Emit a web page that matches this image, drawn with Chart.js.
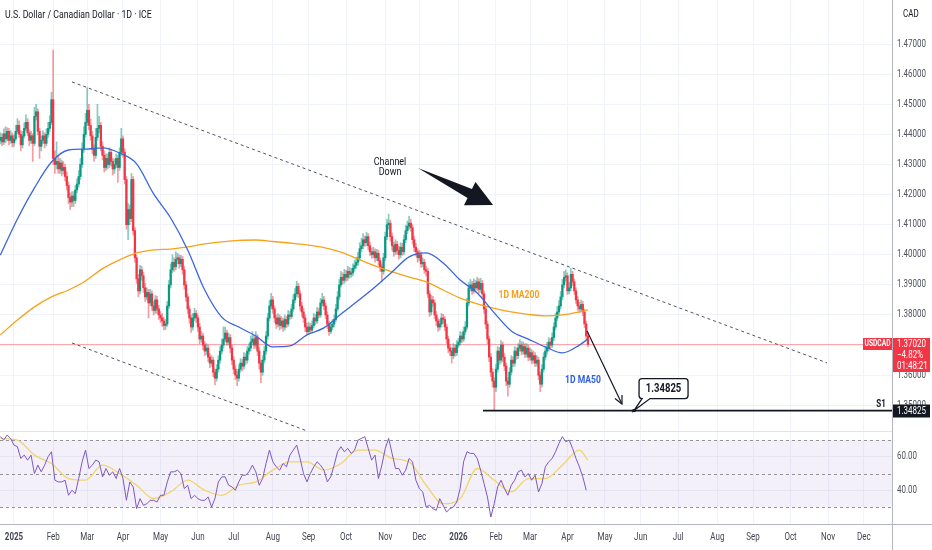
<!DOCTYPE html>
<html><head><meta charset="utf-8">
<script src="https://cdn.jsdelivr.net/npm/chart.js@4.4.1/dist/chart.umd.min.js"></script>
<style>
html,body{margin:0;padding:0;background:#fff;}
#wrap{position:relative;width:932px;height:550px;overflow:hidden;background:#fff;}
#c1{position:absolute;left:0;top:0;}
#c2{position:absolute;left:0;top:431px;}
</style></head><body>
<div id="wrap"><canvas id="c1" width="932" height="431"></canvas><canvas id="c2" width="932" height="119"></canvas></div>
<script>
// ---------------- DATA ----------------
const title = 'U.S. Dollar / Canadian Dollar · 1D · ICE';
const currency = 'CAD';
const symbol = 'USDCAD';
const firstBar = -8; // weekday index of the first candle, counted from 2025-01-01
const monthLabels = ['2025','Feb','Mar','Apr','May','Jun','Jul','Aug','Sep','Oct','Nov','Dec',
                     '2026','Feb','Mar','Apr','May','Jun','Jul','Aug','Sep','Oct','Nov','Dec'];
const opens = [
1.4380,1.4390,1.4375,1.4402,1.4385,1.4410,1.4380,1.4395,1.4372,1.4385,
1.4410,1.4430,1.4400,1.4365,1.4395,1.4420,1.4440,1.4405,1.4380,1.4395,
1.4370,1.4460,1.4475,1.4410,1.4360,1.4380,1.4395,1.4370,1.4400,1.4420,
1.4440,1.4515,1.4320,1.4300,1.4310,1.4285,1.4305,1.4280,1.4290,1.4260,
1.4230,1.4190,1.4175,1.4195,1.4180,1.4215,1.4235,1.4260,1.4300,1.4350,
1.4400,1.4440,1.4480,1.4430,1.4395,1.4350,1.4330,1.4390,1.4420,1.4430,
1.4360,1.4330,1.4290,1.4320,1.4300,1.4340,1.4310,1.4285,1.4300,1.4320,
1.4290,1.4340,1.4385,1.4340,1.4250,1.4100,1.4150,1.4120,1.4250,1.4080,
1.3990,1.3920,1.3880,1.3950,1.3930,1.3890,1.3860,1.3875,1.3840,1.3870,
1.3830,1.3815,1.3850,1.3820,1.3800,1.3790,1.3780,1.3765,1.3770,1.3830,
1.3900,1.3950,1.3975,1.3960,1.3985,1.3990,1.3970,1.3985,1.3950,1.3900,
1.3860,1.3820,1.3790,1.3760,1.3790,1.3805,1.3790,1.3760,1.3720,1.3730,
1.3700,1.3680,1.3690,1.3660,1.3640,1.3650,1.3610,1.3590,1.3620,1.3650,
1.3680,1.3700,1.3720,1.3740,1.3710,1.3725,1.3690,1.3650,1.3620,1.3600,
1.3590,1.3620,1.3640,1.3630,1.3660,1.3650,1.3680,1.3690,1.3710,1.3720,
1.3700,1.3725,1.3680,1.3640,1.3610,1.3650,1.3680,1.3730,1.3790,1.3830,
1.3850,1.3820,1.3790,1.3770,1.3790,1.3765,1.3780,1.3760,1.3785,1.3770,
1.3800,1.3795,1.3820,1.3850,1.3870,1.3895,1.3870,1.3830,1.3810,1.3790,
1.3760,1.3745,1.3760,1.3750,1.3765,1.3790,1.3780,1.3810,1.3800,1.3840,
1.3850,1.3830,1.3800,1.3770,1.3745,1.3760,1.3770,1.3785,1.3820,1.3860,
1.3900,1.3925,1.3915,1.3935,1.3925,1.3945,1.3935,1.3940,1.3955,1.3965,
1.3975,1.3990,1.4020,1.4030,1.4050,1.4040,1.4060,1.4030,1.4010,1.4000,
1.4010,1.3990,1.4005,1.3980,1.3960,1.3945,1.3990,1.4060,1.4100,1.4105,
1.4060,1.4030,1.4010,1.4035,1.4015,1.4000,1.4025,1.4010,1.4050,1.4080,
1.4095,1.4105,1.4090,1.4050,1.4025,1.4010,1.3990,1.4000,1.3970,1.3975,
1.3950,1.3945,1.3870,1.3810,1.3850,1.3840,1.3800,1.3780,1.3760,1.3770,
1.3790,1.3785,1.3760,1.3720,1.3690,1.3680,1.3665,1.3690,1.3675,1.3700,
1.3710,1.3730,1.3720,1.3745,1.3760,1.3840,1.3890,1.3900,1.3880,1.3905,
1.3890,1.3910,1.3885,1.3905,1.3870,1.3820,1.3770,1.3720,1.3660,1.3610,
1.3580,1.3560,1.3620,1.3680,1.3650,1.3700,1.3660,1.3630,1.3580,1.3570,
1.3610,1.3650,1.3640,1.3680,1.3665,1.3690,1.3700,1.3680,1.3695,1.3670,
1.3690,1.3660,1.3675,1.3650,1.3665,1.3640,1.3650,1.3600,1.3570,1.3620,
1.3660,1.3680,1.3690,1.3710,1.3700,1.3725,1.3760,1.3790,1.3810,1.3830,
1.3860,1.3900,1.3925,1.3930,1.3880,1.3890,1.3935,1.3910,1.3880,1.3850,
1.3830,1.3820,1.3835,1.3810,1.3770,1.3730];
const highs = [
1.4405,1.4402,1.4418,1.4425,1.4422,1.4420,1.4412,1.4405,1.4398,1.4430,
1.4452,1.4445,1.4412,1.4410,1.4438,1.4465,1.4452,1.4415,1.4410,1.4402,
1.4490,1.4500,1.4485,1.4420,1.4395,1.4412,1.4405,1.4418,1.4440,1.4462,
1.4540,1.4680,1.4345,1.4375,1.4330,1.4320,1.4315,1.4310,1.4300,1.4275,
1.4242,1.4205,1.4210,1.4210,1.4230,1.4252,1.4280,1.4320,1.4372,1.4425,
1.4470,1.4555,1.4500,1.4450,1.4410,1.4365,1.4420,1.4500,1.4460,1.4440,
1.4375,1.4345,1.4335,1.4335,1.4355,1.4350,1.4320,1.4318,1.4335,1.4330,
1.4355,1.4420,1.4395,1.4352,1.4260,1.4170,1.4165,1.4270,1.4260,1.4090,
1.4000,1.3935,1.3965,1.3962,1.3942,1.3905,1.3890,1.3885,1.3885,1.3880,
1.3845,1.3865,1.3862,1.3832,1.3812,1.3805,1.3792,1.3785,1.3845,1.3915,
1.3970,1.4000,1.3990,1.4010,1.4005,1.4000,1.3998,1.3995,1.3962,1.3912,
1.3870,1.3830,1.3800,1.3805,1.3822,1.3815,1.3800,1.3772,1.3745,1.3740,
1.3712,1.3705,1.3700,1.3672,1.3665,1.3660,1.3620,1.3635,1.3665,1.3695,
1.3720,1.3760,1.3760,1.3750,1.3740,1.3735,1.3700,1.3662,1.3632,1.3612,
1.3635,1.3655,1.3652,1.3675,1.3672,1.3695,1.3705,1.3730,1.3745,1.3732,
1.3745,1.3735,1.3692,1.3650,1.3665,1.3695,1.3745,1.3805,1.3848,1.3872,
1.3862,1.3830,1.3800,1.3805,1.3800,1.3795,1.3790,1.3800,1.3795,1.3815,
1.3812,1.3835,1.3868,1.3888,1.3912,1.3905,1.3880,1.3842,1.3822,1.3800,
1.3772,1.3775,1.3772,1.3780,1.3805,1.3802,1.3825,1.3822,1.3855,1.3872,
1.3862,1.3840,1.3810,1.3780,1.3775,1.3785,1.3800,1.3835,1.3878,1.3918,
1.3945,1.3940,1.3952,1.3948,1.3962,1.3958,1.3955,1.3970,1.3982,1.3992,
1.4008,1.4040,1.4055,1.4070,1.4062,1.4075,1.4070,1.4042,1.4022,1.4025,
1.4020,1.4018,1.4015,1.3990,1.3970,1.4005,1.4075,1.4118,1.4135,1.4115,
1.4072,1.4042,1.4050,1.4045,1.4028,1.4040,1.4038,1.4065,1.4098,1.4112,
1.4128,1.4118,1.4100,1.4062,1.4038,1.4020,1.4015,1.4010,1.3990,1.3985,
1.3962,1.3955,1.3880,1.3865,1.3862,1.3850,1.3812,1.3790,1.3785,1.3805,
1.3802,1.3795,1.3770,1.3730,1.3702,1.3692,1.3705,1.3700,1.3715,1.3722,
1.3745,1.3742,1.3760,1.3778,1.3855,1.3908,1.3918,1.3912,1.3920,1.3915,
1.3925,1.3920,1.3922,1.3915,1.3880,1.3830,1.3780,1.3730,1.3672,1.3622,
1.3592,1.3635,1.3695,1.3692,1.3715,1.3710,1.3672,1.3640,1.3592,1.3625,
1.3665,1.3662,1.3695,1.3692,1.3705,1.3718,1.3712,1.3710,1.3705,1.3705,
1.3700,1.3690,1.3685,1.3680,1.3675,1.3665,1.3660,1.3610,1.3635,1.3675,
1.3695,1.3708,1.3725,1.3722,1.3740,1.3775,1.3805,1.3828,1.3848,1.3878,
1.3918,1.3945,1.3950,1.3940,1.3908,1.3955,1.3945,1.3920,1.3890,1.3862,
1.3842,1.3850,1.3845,1.3820,1.3780,1.3740];
const lows = [
1.4368,1.4362,1.4366,1.4372,1.4378,1.4365,1.4370,1.4358,1.4360,1.4378,
1.4402,1.4390,1.4345,1.4355,1.4388,1.4412,1.4395,1.4362,1.4370,1.4310,
1.4362,1.4448,1.4398,1.4320,1.4345,1.4370,1.4355,1.4362,1.4390,1.4410,
1.4432,1.4300,1.4270,1.4285,1.4270,1.4270,1.4262,1.4268,1.4245,1.4215,
1.4170,1.4150,1.4160,1.4160,1.4170,1.4205,1.4225,1.4250,1.4290,1.4340,
1.4390,1.4430,1.4415,1.4380,1.4335,1.4310,1.4320,1.4380,1.4405,1.4345,
1.4315,1.4275,1.4280,1.4285,1.4290,1.4295,1.4265,1.4270,1.4290,1.4240,
1.4280,1.4330,1.4325,1.4235,1.4085,1.4050,1.4100,1.4110,1.4065,1.3975,
1.3905,1.3860,1.3870,1.3915,1.3875,1.3845,1.3850,1.3790,1.3830,1.3815,
1.3800,1.3805,1.3805,1.3785,1.3775,1.3762,1.3750,1.3752,1.3762,1.3822,
1.3890,1.3940,1.3945,1.3950,1.3970,1.3955,1.3960,1.3935,1.3885,1.3845,
1.3805,1.3772,1.3742,1.3750,1.3780,1.3775,1.3745,1.3705,1.3710,1.3685,
1.3665,1.3668,1.3645,1.3625,1.3630,1.3595,1.3568,1.3580,1.3610,1.3640,
1.3670,1.3690,1.3710,1.3700,1.3700,1.3675,1.3635,1.3605,1.3585,1.3565,
1.3580,1.3610,1.3615,1.3620,1.3635,1.3640,1.3670,1.3680,1.3700,1.3688,
1.3690,1.3665,1.3620,1.3575,1.3600,1.3640,1.3670,1.3720,1.3780,1.3820,
1.3805,1.3775,1.3755,1.3760,1.3750,1.3755,1.3745,1.3750,1.3758,1.3762,
1.3785,1.3788,1.3812,1.3840,1.3860,1.3858,1.3815,1.3795,1.3775,1.3745,
1.3735,1.3735,1.3738,1.3740,1.3758,1.3768,1.3772,1.3790,1.3792,1.3830,
1.3818,1.3788,1.3755,1.3732,1.3738,1.3750,1.3760,1.3778,1.3812,1.3850,
1.3892,1.3902,1.3905,1.3912,1.3915,1.3922,1.3925,1.3930,1.3945,1.3955,
1.3965,1.3980,1.4010,1.4020,1.4028,1.4030,1.4018,1.3998,1.3988,1.3990,
1.3975,1.3980,1.3965,1.3945,1.3910,1.3935,1.3980,1.4050,1.4085,1.4045,
1.4015,1.3995,1.4000,1.4002,1.3985,1.3990,1.3998,1.4000,1.4040,1.4070,
1.4085,1.4078,1.4035,1.4010,1.3995,1.3975,1.3980,1.3958,1.3960,1.3938,
1.3930,1.3858,1.3795,1.3800,1.3828,1.3788,1.3765,1.3745,1.3750,1.3760,
1.3772,1.3748,1.3705,1.3675,1.3665,1.3640,1.3655,1.3662,1.3665,1.3692,
1.3700,1.3708,1.3712,1.3735,1.3752,1.3830,1.3880,1.3868,1.3872,1.3878,
1.3882,1.3872,1.3875,1.3858,1.3805,1.3755,1.3705,1.3645,1.3595,1.3560,
1.3483,1.3545,1.3610,1.3635,1.3640,1.3645,1.3615,1.3565,1.3530,1.3560,
1.3600,1.3628,1.3630,1.3652,1.3655,1.3680,1.3668,1.3670,1.3658,1.3660,
1.3648,1.3650,1.3638,1.3640,1.3628,1.3630,1.3585,1.3545,1.3560,1.3610,
1.3650,1.3670,1.3680,1.3688,1.3692,1.3715,1.3750,1.3780,1.3800,1.3820,
1.3850,1.3890,1.3912,1.3868,1.3870,1.3880,1.3898,1.3868,1.3838,1.3815,
1.3808,1.3810,1.3798,1.3758,1.3718,1.3695];
const closes = [
1.4390,1.4375,1.4402,1.4385,1.4410,1.4380,1.4395,1.4372,1.4385,1.4410,
1.4430,1.4400,1.4365,1.4395,1.4420,1.4440,1.4405,1.4380,1.4395,1.4370,
1.4460,1.4475,1.4410,1.4360,1.4380,1.4395,1.4370,1.4400,1.4420,1.4440,
1.4515,1.4320,1.4300,1.4310,1.4285,1.4305,1.4280,1.4290,1.4260,1.4230,
1.4190,1.4175,1.4195,1.4180,1.4215,1.4235,1.4260,1.4300,1.4350,1.4400,
1.4440,1.4480,1.4430,1.4395,1.4350,1.4330,1.4390,1.4420,1.4430,1.4360,
1.4330,1.4290,1.4320,1.4300,1.4340,1.4310,1.4285,1.4300,1.4320,1.4290,
1.4340,1.4385,1.4340,1.4250,1.4100,1.4150,1.4120,1.4250,1.4080,1.3990,
1.3920,1.3880,1.3950,1.3930,1.3890,1.3860,1.3875,1.3840,1.3870,1.3830,
1.3815,1.3850,1.3820,1.3800,1.3790,1.3780,1.3765,1.3770,1.3830,1.3900,
1.3950,1.3975,1.3960,1.3985,1.3990,1.3970,1.3985,1.3950,1.3900,1.3860,
1.3820,1.3790,1.3760,1.3790,1.3805,1.3790,1.3760,1.3720,1.3730,1.3700,
1.3680,1.3690,1.3660,1.3640,1.3650,1.3610,1.3590,1.3620,1.3650,1.3680,
1.3700,1.3720,1.3740,1.3710,1.3725,1.3690,1.3650,1.3620,1.3600,1.3590,
1.3620,1.3640,1.3630,1.3660,1.3650,1.3680,1.3690,1.3710,1.3720,1.3700,
1.3725,1.3680,1.3640,1.3610,1.3650,1.3680,1.3730,1.3790,1.3830,1.3850,
1.3820,1.3790,1.3770,1.3790,1.3765,1.3780,1.3760,1.3785,1.3770,1.3800,
1.3795,1.3820,1.3850,1.3870,1.3895,1.3870,1.3830,1.3810,1.3790,1.3760,
1.3745,1.3760,1.3750,1.3765,1.3790,1.3780,1.3810,1.3800,1.3840,1.3850,
1.3830,1.3800,1.3770,1.3745,1.3760,1.3770,1.3785,1.3820,1.3860,1.3900,
1.3925,1.3915,1.3935,1.3925,1.3945,1.3935,1.3940,1.3955,1.3965,1.3975,
1.3990,1.4020,1.4030,1.4050,1.4040,1.4060,1.4030,1.4010,1.4000,1.4010,
1.3990,1.4005,1.3980,1.3960,1.3945,1.3990,1.4060,1.4100,1.4105,1.4060,
1.4030,1.4010,1.4035,1.4015,1.4000,1.4025,1.4010,1.4050,1.4080,1.4095,
1.4105,1.4090,1.4050,1.4025,1.4010,1.3990,1.4000,1.3970,1.3975,1.3950,
1.3945,1.3870,1.3810,1.3850,1.3840,1.3800,1.3780,1.3760,1.3770,1.3790,
1.3785,1.3760,1.3720,1.3690,1.3680,1.3665,1.3690,1.3675,1.3700,1.3710,
1.3730,1.3720,1.3745,1.3760,1.3840,1.3890,1.3900,1.3880,1.3905,1.3890,
1.3910,1.3885,1.3905,1.3870,1.3820,1.3770,1.3720,1.3660,1.3610,1.3580,
1.3560,1.3620,1.3680,1.3650,1.3700,1.3660,1.3630,1.3580,1.3570,1.3610,
1.3650,1.3640,1.3680,1.3665,1.3690,1.3700,1.3680,1.3695,1.3670,1.3690,
1.3660,1.3675,1.3650,1.3665,1.3640,1.3650,1.3600,1.3570,1.3620,1.3660,
1.3680,1.3690,1.3710,1.3700,1.3725,1.3760,1.3790,1.3810,1.3830,1.3860,
1.3900,1.3925,1.3930,1.3880,1.3890,1.3935,1.3910,1.3880,1.3850,1.3830,
1.3820,1.3835,1.3810,1.3770,1.3730,1.3702];
// moving averages read every 10 bars (last point = last bar)
const maStep = 10;
const ma50 = [1.3999,1.4119,1.4222,1.4308,1.4348,1.4351,1.4355,1.4338,1.4302,1.4202,
              1.4122,1.4016,1.3883,1.3793,1.3760,1.3730,1.3694,1.3697,1.3734,1.3757,
              1.3803,1.3847,1.3893,1.3943,1.3993,1.4006,1.3973,1.3916,1.3873,1.3807,
              1.3747,1.3720,1.3694,1.3674,1.3700,1.3720];
const ma200 = [1.3734,1.3783,1.3827,1.3860,1.3883,1.3913,1.3954,1.3983,1.4006,1.4016,
               1.4019,1.4026,1.4036,1.4043,1.4048,1.4049,1.4044,1.4039,1.4033,1.4024,
               1.4009,1.3986,1.3963,1.3943,1.3926,1.3910,1.3883,1.3856,1.3837,1.3822,
               1.3810,1.3802,1.3797,1.3800,1.3810,1.3817];
// RSI read every 2 bars, RSI moving average every 10 bars
const rsiStep = 2;
const rsi = [72,70,73,71,67,66,59,61,58,61, 50,55,51,55,60,63,46,45,45,46,
             37,40,38,47,57,64,53,55,58,57, 48,53,49,51,47,53,47,34,45,42,
             29,35,31,32,34,34,33,37,37,45, 51,51,52,50,41,43,35,37,35,34,
             34,36,30,35,45,48,48,43,42,40, 45,49,49,51,55,51,43,47,56,64,
             57,54,52,56,54,61,64,67,59,50, 45,50,54,57,55,52,45,48,55,63,
             66,63,65,62,64,70,71,72,65,58, 61,47,55,65,71,62,53,53,49,52,
             59,57,46,41,39,30,31,29,28,35, 31,27,29,30,33,41,57,63,62,62,
             59,52,44,36,24,32,42,46,41,37, 43,46,51,52,48,50,46,49,39,44,
             54,57,59,63,68,72,69,70,65,59, 54,48,40];
const rsiMa = [71,70,61,56,47,46,55,50,43,35, 39,46,40,37,43,45,52,57,57,52,
               56,64,64,59,57,43,32,35,53,46, 39,47,47,55,64,58];
const priceTicksStep = 0.01;
const rsiTicks = [40, 60];
const rsiLevels = [70, 50, 30];
const lastPrice = 1.37020, changeText = '−4.82%', countdownText = '01:48:21';
const s1Level = 1.34825, s1Label = 'S1';
// drawings (bar index, price)
const channelUpper = [[34.06,1.4574],[477.4,1.3641]];
const channelLower = [[34.06,1.3707],[172.0,1.3415]];
const projArrow = [[336.5,1.3747],[357.0,1.3504]];
const s1Start = 275.4;
const calloutAt = [364.1, 1.34825];
const bigArrow = [[237.2,1.4288],[281.3,1.4165]];
const notes = [
  {t:'Channel', at:[220.8,1.4308], color:'#131722', size:11.5, weight:'normal'},
  {t:'Down', at:[220.8,1.4273], color:'#131722', size:11.5, weight:'normal'},
  {t:'1D MA200', at:[296.5,1.3866], color:'#f5a01a', size:11, weight:'bold'},
  {t:'1D MA50', at:[334.1,1.3584], color:'#2f5fe0', size:11, weight:'bold'}
];

// ---------------- SETUP ----------------
const FONT = "'Roboto','Noto Sans','DejaVu Sans',sans-serif";
Chart.defaults.font.family = FONT;
const SX = 0.8; // horizontal text compression to mimic the narrow UI font
const X_MIN = -8.22, X_MAX = 515.56;
const P_MIN = 1.34146, P_MAX = 1.48462;
const R_MIN = 19.85, R_MAX = 75.4;

function weekdayIndex(y, m) {
  const start = Date.UTC(2025,0,1);
  let t = Date.UTC(y,m,1);
  while ([0,6].includes(new Date(t).getUTCDay())) t += 86400000;
  let c = 0;
  for (let u = start; u < t; u += 86400000) { const w = new Date(u).getUTCDay(); if (w !== 0 && w !== 6) c++; }
  return c;
}
const monthTicks = monthLabels.map((_, k) => weekdayIndex(2025 + Math.floor(k/12), k % 12));
const lastBar = firstBar + closes.length - 1;

const wickData = [], bodyData = [], wickCol = [], bodyCol = [];
for (let k = 0; k < closes.length; k++) {
  const x = firstBar + k, up = closes[k] >= opens[k];
  wickData.push({x, y:[lows[k], highs[k]]});
  bodyData.push({x, y:[Math.min(opens[k], closes[k]), Math.max(opens[k], closes[k])]});
  wickCol.push(up ? 'rgba(8,153,129,0.5)' : 'rgba(242,54,69,0.5)');
  bodyCol.push(up ? '#089981' : '#f23645');
}
const sampled = (arr, step) => arr.map((v, k) => ({x: Math.min(firstBar + k*step, lastBar), y: v}));
const seg = p => p.map(q => ({x:q[0], y:q[1]}));

function txt(ctx, s, x, y, o) {
  o = Object.assign({size:11, weight:'normal', color:'#131722', align:'left', sx:SX}, o || {});
  ctx.save();
  ctx.font = `${o.weight} ${o.size}px ${FONT}`;
  ctx.fillStyle = o.color; ctx.textAlign = o.align; ctx.textBaseline = 'middle';
  ctx.translate(x, y); ctx.scale(o.sx, 1); ctx.fillText(s, 0, 0);
  ctx.restore();
}

const priceDecor = {
  id: 'priceDecor',
  afterDatasetsDraw(chart) {
    const {ctx, scales:{x, y}} = chart;
    const px = v => x.getPixelForValue(v), py = v => y.getPixelForValue(v);
    ctx.save();
    // projection arrow head
    const s = {x:px(projArrow[0][0]), y:py(projArrow[0][1])}, e = {x:px(projArrow[1][0]), y:py(projArrow[1][1])};
    const ang = Math.atan2(e.y - s.y, e.x - s.x);
    ctx.strokeStyle = '#131722'; ctx.lineWidth = 1.2;
    ctx.beginPath();
    ctx.moveTo(e.x - 9*Math.cos(ang - 0.45), e.y - 9*Math.sin(ang - 0.45));
    ctx.lineTo(e.x, e.y);
    ctx.lineTo(e.x - 9*Math.cos(ang + 0.45), e.y - 9*Math.sin(ang + 0.45));
    ctx.stroke();
    // big channel arrow
    const a = {x:px(bigArrow[0][0]), y:py(bigArrow[0][1])}, b = {x:px(bigArrow[1][0]), y:py(bigArrow[1][1])};
    const dx = b.x - a.x, dy = b.y - a.y, L = Math.hypot(dx, dy), ux = dx/L, uy = dy/L, nx = -uy, ny = ux;
    const hb = L - 26, cx = a.x + ux*hb, cy = a.y + uy*hb;
    ctx.fillStyle = '#131722';
    ctx.beginPath(); ctx.moveTo(a.x, a.y);
    ctx.lineTo(cx + nx*5, cy + ny*5); ctx.lineTo(cx + nx*13, cy + ny*13); ctx.lineTo(b.x, b.y);
    ctx.lineTo(cx - nx*13, cy - ny*13); ctx.lineTo(cx - nx*5, cy - ny*5); ctx.closePath(); ctx.fill();
    // notes
    notes.forEach(n => txt(ctx, n.t, px(n.at[0]), py(n.at[1]), {size:n.size, weight:n.weight, color:n.color, align:'center', sx:0.78}));
    // callout
    const ax = px(calloutAt[0]), ay = py(calloutAt[1]);
    const bx = ax + 5, by = ay - 32, bw = 49, bh = 20, r = 3;
    ctx.fillStyle = '#fff'; ctx.strokeStyle = '#131722'; ctx.lineWidth = 1.3;
    ctx.beginPath();
    ctx.moveTo(bx + r, by); ctx.lineTo(bx + bw - r, by); ctx.quadraticCurveTo(bx + bw, by, bx + bw, by + r);
    ctx.lineTo(bx + bw, by + bh - r); ctx.quadraticCurveTo(bx + bw, by + bh, bx + bw - r, by + bh);
    ctx.lineTo(bx + 11, by + bh); ctx.lineTo(ax, ay); ctx.lineTo(bx + 3, by + bh);
    ctx.lineTo(bx + r, by + bh); ctx.quadraticCurveTo(bx, by + bh, bx, by + bh - r);
    ctx.lineTo(bx, by + r); ctx.quadraticCurveTo(bx, by, bx + r, by);
    ctx.closePath(); ctx.fill(); ctx.stroke();
    ctx.fillStyle = '#131722'; ctx.fillRect(ax - 1.5, ay - 1.5, 3, 3);
    txt(ctx, s1Level.toFixed(5), bx + bw/2, by + bh/2 + 0.5, {size:12.5, weight:'bold', align:'center', sx:0.76});
    ctx.restore();
  },
  afterDraw(chart) {
    const {ctx, scales:{y}} = chart;
    const py = v => y.getPixelForValue(v);
    ctx.save();
    ctx.strokeStyle = '#b2b5be'; ctx.lineWidth = 1;
    ctx.beginPath(); ctx.moveTo(892.5, 0); ctx.lineTo(892.5, 431); ctx.stroke();
    // axis tick labels
    y.ticks.forEach(t => txt(ctx, t.value.toFixed(5), 897, py(t.value), {size:10, color:'#50535e'}));
    txt(ctx, title, 5, 15, {size:11.5, color:'#131722', sx:0.76});
    txt(ctx, currency, 903, 14, {size:10, color:'#131722'});
    // last price labels
    const yp = Math.round(py(lastPrice));
    ctx.fillStyle = '#f23645';
    ctx.fillRect(863, yp - 6, 29, 12);
    ctx.fillRect(893, yp - 6, 37, 34);
    txt(ctx, symbol, 877.5, yp, {size:9.5, weight:'bold', color:'#fff', align:'center', sx:0.7});
    txt(ctx, lastPrice.toFixed(5), 897, yp, {size:10, color:'#fff'});
    txt(ctx, changeText, 897, yp + 11, {size:10, color:'#fff'});
    txt(ctx, countdownText, 897, yp + 22, {size:10, color:'#fff'});
    // S1 labels
    const ys = Math.round(py(s1Level));
    txt(ctx, s1Label, 881, ys - 7, {size:10, weight:'bold', color:'#131722', align:'center'});
    ctx.fillStyle = '#131722'; ctx.fillRect(893, ys - 6.5, 37, 13);
    txt(ctx, s1Level.toFixed(5), 897, ys, {size:10, color:'#fff'});
    ctx.restore();
  }
};

new Chart(document.getElementById('c1'), {
  type: 'bar',
  data: { datasets: [
    {type:'line', data: seg([[X_MIN,lastPrice],[X_MAX,lastPrice]]), borderColor:'rgba(242,54,69,0.45)', borderWidth:1, pointRadius:0, order:30},
    {type:'bar', data: wickData, backgroundColor: wickCol, barThickness: 1, grouped:false, order:21},
    {type:'bar', data: bodyData, backgroundColor: bodyCol, barThickness: 1.6, minBarLength: 1, grouped:false, order:20},
    {type:'line', data: sampled(ma200, maStep), borderColor:'#f7a21b', borderWidth:1.3, pointRadius:0, cubicInterpolationMode:'monotone', order:10},
    {type:'line', data: sampled(ma50, maStep), borderColor:'#3a66dd', borderWidth:1.3, pointRadius:0, cubicInterpolationMode:'monotone', order:9},
    {type:'line', data: seg(channelUpper), borderColor:'#50535e', borderWidth:1, borderDash:[3,3], pointRadius:0, order:5},
    {type:'line', data: seg(channelLower), borderColor:'#50535e', borderWidth:1, borderDash:[3,3], pointRadius:0, order:5},
    {type:'line', data: seg([[s1Start,s1Level],[X_MAX,s1Level]]), borderColor:'#131722', borderWidth:1.8, pointRadius:0, order:4},
    {type:'line', data: seg(projArrow), borderColor:'#131722', borderWidth:1.2, pointRadius:0, order:3}
  ]},
  options: {
    responsive:false, animation:false, layout:{padding:0},
    plugins:{legend:{display:false}, tooltip:{enabled:false}},
    scales:{
      x:{type:'linear', min:X_MIN, max:X_MAX, offset:false,
         grid:{color:'#f0f3fa', drawTicks:false, offset:false}, border:{display:false},
         ticks:{display:false},
         afterBuildTicks: s => { s.ticks = monthTicks.map(v => ({value:v})); },
         afterFit: s => { s.height = 0; s.paddingLeft = 0; s.paddingRight = 0; }},
      y:{position:'right', min:P_MIN, max:P_MAX,
         grid:{color:'#f0f3fa', drawTicks:false}, border:{display:false},
         ticks:{display:false, stepSize:priceTicksStep, includeBounds:false},
         afterBuildTicks: s => { s.ticks = s.ticks.filter(t => t.value < 1.475); },
         afterFit: s => { s.width = 40; s.paddingTop = 0; s.paddingBottom = 0; }}
    }
  },
  plugins:[priceDecor]
});

const rsiDecor = {
  id:'rsiDecor',
  beforeDatasetsDraw(chart) {
    const {ctx, chartArea:ca, scales:{y}} = chart;
    const y70 = y.getPixelForValue(rsiLevels[0]), y30 = y.getPixelForValue(rsiLevels[2]);
    ctx.save();
    ctx.fillStyle = 'rgba(126,87,194,0.09)';
    ctx.fillRect(ca.left, y70, ca.right - ca.left, y30 - y70);
    ctx.strokeStyle = 'rgba(120,123,134,0.8)'; ctx.setLineDash([3,3]); ctx.lineWidth = 1;
    rsiLevels.forEach(l => { const v = Math.round(y.getPixelForValue(l)) + 0.5; ctx.beginPath(); ctx.moveTo(ca.left, v); ctx.lineTo(ca.right, v); ctx.stroke(); });
    ctx.restore();
  },
  afterDraw(chart) {
    const {ctx, chartArea:ca, scales:{x, y}} = chart;
    ctx.save();
    ctx.strokeStyle = '#e0e3eb'; ctx.lineWidth = 1;
    ctx.beginPath(); ctx.moveTo(0, 0.5); ctx.lineTo(892, 0.5); ctx.stroke();
    ctx.strokeStyle = '#b2b5be';
    ctx.beginPath(); ctx.moveTo(892.5, 0); ctx.lineTo(892.5, 119); ctx.stroke();
    ctx.beginPath(); ctx.moveTo(0, Math.round(ca.bottom) + 0.5); ctx.lineTo(932, Math.round(ca.bottom) + 0.5); ctx.stroke();
    y.ticks.forEach(t => txt(ctx, t.value.toFixed(2), 897, y.getPixelForValue(t.value), {size:10, color:'#50535e'}));
    x.ticks.forEach((t, i) => txt(ctx, monthLabels[i], x.getPixelForValue(t.value), ca.bottom + 13,
      {size:10, color:'#434651', align:'center', weight: (i % 12 === 0) ? 'bold' : 'normal'}));
    ctx.restore();
  }
};

new Chart(document.getElementById('c2'), {
  type:'line',
  data:{ datasets:[
    {data: sampled(rsiMa, maStep), borderColor:'#f2d46b', borderWidth:1.3, pointRadius:0, cubicInterpolationMode:'monotone', order:2},
    {data: sampled(rsi, rsiStep), borderColor:'#7e57c2', borderWidth:1, pointRadius:0, order:1}
  ]},
  options:{
    responsive:false, animation:false, layout:{padding:0},
    plugins:{legend:{display:false}, tooltip:{enabled:false}},
    scales:{
      x:{type:'linear', min:X_MIN, max:X_MAX, offset:false,
         grid:{color:'#f0f3fa', drawTicks:false}, border:{display:false},
         ticks:{display:false},
         afterBuildTicks: s => { s.ticks = monthTicks.map(v => ({value:v})); },
         afterFit: s => { s.height = 26; s.paddingLeft = 0; s.paddingRight = 0; }},
      y:{position:'right', min:R_MIN, max:R_MAX,
         grid:{color:'#f0f3fa', drawTicks:false}, border:{display:false},
         ticks:{display:false},
         afterBuildTicks: s => { s.ticks = rsiTicks.map(v => ({value:v})); },
         afterFit: s => { s.width = 40; s.paddingTop = 0; s.paddingBottom = 0; }}
    }
  },
  plugins:[rsiDecor]
});
</script></body></html>
